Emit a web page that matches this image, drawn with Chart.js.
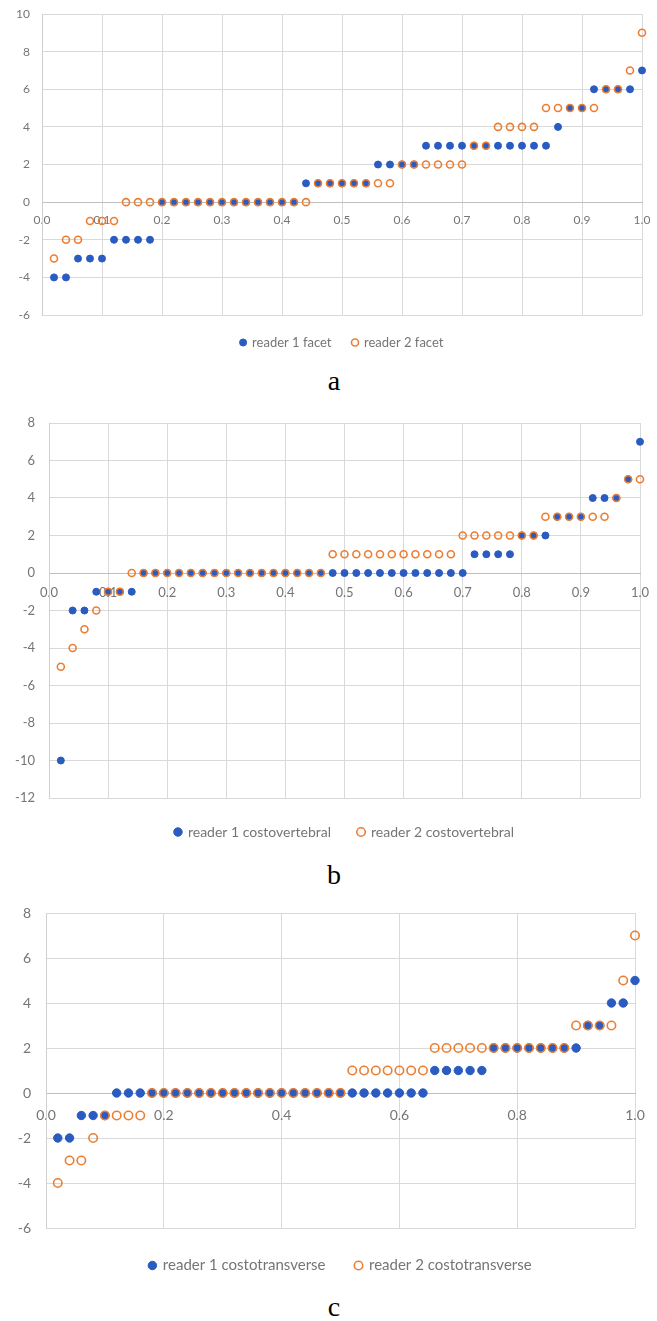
<!DOCTYPE html>
<html>
<head>
<meta charset="utf-8">
<script src="https://cdn.jsdelivr.net/npm/chart.js@4.4.1/dist/chart.umd.min.js"></script>
<style>
  html, body { margin: 0; padding: 0; background: #fff; }
  body { position: relative; width: 657px; height: 1321px; overflow: hidden; }
  canvas { position: absolute; left: 0; }
  .panel { position: absolute; left: 0; width: 668px; text-align: center; font-family: "Liberation Serif", "Times New Roman", serif; font-size: 28px; line-height: 28px; color: #000; }
</style>
</head>
<body>
<canvas id="chartA" width="657" height="359" style="top:0px"></canvas>
<div class="panel" style="top:367px">a</div>
<canvas id="chartB" width="657" height="449" style="top:400px"></canvas>
<div class="panel" style="top:861px">b</div>
<canvas id="chartC" width="657" height="393" style="top:890px"></canvas>
<div class="panel" style="top:1293px">c</div>

<script>
// cumulative proportion of cases (x axis, same for all three panels)
const xPos = [0.02, 0.04, 0.06, 0.08, 0.10, 0.12, 0.14, 0.16, 0.18, 0.20,
              0.22, 0.24, 0.26, 0.28, 0.30, 0.32, 0.34, 0.36, 0.38, 0.40,
              0.42, 0.44, 0.46, 0.48, 0.50, 0.52, 0.54, 0.56, 0.58, 0.60,
              0.62, 0.64, 0.66, 0.68, 0.70, 0.72, 0.74, 0.76, 0.78, 0.80,
              0.82, 0.84, 0.86, 0.88, 0.90, 0.92, 0.94, 0.96, 0.98, 1.00];

// a - facet
const facetReader1 = [-4, -4, -3, -3, -3, -2, -2, -2, -2, 0,
                      0, 0, 0, 0, 0, 0, 0, 0, 0, 0,
                      0, 1, 1, 1, 1, 1, 1, 2, 2, 2,
                      2, 3, 3, 3, 3, 3, 3, 3, 3, 3,
                      3, 3, 4, 5, 5, 6, 6, 6, 6, 7];
const facetReader2 = [-3, -2, -2, -1, -1, -1, 0, 0, 0, 0,
                      0, 0, 0, 0, 0, 0, 0, 0, 0, 0,
                      0, 0, 1, 1, 1, 1, 1, 1, 1, 2,
                      2, 2, 2, 2, 2, 3, 3, 4, 4, 4,
                      4, 5, 5, 5, 5, 5, 6, 6, 7, 9];

// b - costovertebral
const costovertReader1 = [-10, -2, -2, -1, -1, -1, -1, 0, 0, 0,
                          0, 0, 0, 0, 0, 0, 0, 0, 0, 0,
                          0, 0, 0, 0, 0, 0, 0, 0, 0, 0,
                          0, 0, 0, 0, 0, 1, 1, 1, 1, 2,
                          2, 2, 3, 3, 3, 4, 4, 4, 5, 7];
const costovertReader2 = [-5, -4, -3, -2, -1, -1, 0, 0, 0, 0,
                          0, 0, 0, 0, 0, 0, 0, 0, 0, 0,
                          0, 0, 0, 1, 1, 1, 1, 1, 1, 1,
                          1, 1, 1, 1, 2, 2, 2, 2, 2, 2,
                          2, 3, 3, 3, 3, 3, 3, 4, 5, 5];

// c - costotransverse
const costotransReader1 = [-2, -2, -1, -1, -1, 0, 0, 0, 0, 0,
                           0, 0, 0, 0, 0, 0, 0, 0, 0, 0,
                           0, 0, 0, 0, 0, 0, 0, 0, 0, 0,
                           0, 0, 1, 1, 1, 1, 1, 2, 2, 2,
                           2, 2, 2, 2, 2, 3, 3, 4, 4, 5];
const costotransReader2 = [-4, -3, -3, -2, -1, -1, -1, -1, 0, 0,
                           0, 0, 0, 0, 0, 0, 0, 0, 0, 0,
                           0, 0, 0, 0, 0, 1, 1, 1, 1, 1,
                           1, 1, 2, 2, 2, 2, 2, 2, 2, 2,
                           2, 2, 2, 2, 3, 3, 3, 3, 5, 7];

const BLUE = '#2A5BC0';
const ORANGE = '#ED7D31';
const GRID = '#d9d9d9';
const TEXT = '#757575';

function pairs(values) {
    return xPos.map((x, i) => ({ x: x, y: values[i] }));
}

function scatterChart(id, o) {
    const ctx = document.getElementById(id).getContext('2d');
    const tickFont = { family: 'Lato', size: o.tickSize };

    return new Chart(ctx, {
        type: 'scatter',
        data: {
            datasets: [{
                label: o.labels[0],
                data: pairs(o.reader1),
                order: 1,
                backgroundColor: BLUE,
                borderColor: BLUE,
                borderWidth: 1,
                pointRadius: o.radius,
                pointHoverRadius: o.radius,
                clip: false
            }, {
                label: o.labels[1],
                data: pairs(o.reader2),
                order: 0,
                backgroundColor: 'rgba(0,0,0,0)',
                borderColor: ORANGE,
                borderWidth: 1.6,
                pointRadius: o.radius,
                pointHoverRadius: o.radius,
                clip: false
            }]
        },
        options: {
            responsive: false,
            animation: false,
            layout: { padding: { top: o.top, right: o.right, left: 0, bottom: 0 } },
            plugins: {
                tooltip: { enabled: false },
                legend: {
                    position: 'bottom',
                    fullSize: false,
                    labels: {
                        usePointStyle: true,
                        pointStyle: 'circle',
                        boxWidth: o.legendBox,
                        boxHeight: o.legendBox,
                        padding: o.legendPad,
                        color: TEXT,
                        font: { family: 'Lato', size: o.legendSize },
                        sort: (a, b) => a.datasetIndex - b.datasetIndex
                    }
                }
            },
            scales: {
                x: {
                    type: 'linear',
                    min: 0,
                    max: 1,
                    position: { y: 0 },
                    grid: { color: GRID, drawTicks: false },
                    border: { color: '#bfbfbf' },
                    ticks: {
                        stepSize: o.xStep,
                        padding: o.xPad,
                        color: TEXT,
                        font: tickFont,
                        maxRotation: 0,
                        autoSkip: false,
                        callback: v => Number(v).toFixed(1)
                    },
                    afterFit: s => { s.paddingLeft = 0; s.paddingRight = 0; }
                },
                y: {
                    min: o.yMin,
                    max: o.yMax,
                    grid: { color: GRID, drawTicks: false },
                    border: { color: '#cfcfcf' },
                    ticks: { stepSize: 2, padding: o.yPad, color: TEXT, font: tickFont },
                    afterFit: s => { s.width = o.left; s.paddingTop = 0; s.paddingBottom = 0; }
                }
            }
        }
    });
}

document.addEventListener('DOMContentLoaded', function () {
    scatterChart('chartA', {
        labels: ['reader 1 facet', 'reader 2 facet'],
        reader1: facetReader1, reader2: facetReader2,
        yMin: -6, yMax: 10, xStep: 0.1,
        top: 14, right: 15, left: 42,
        radius: 3.5, tickSize: 12, xPad: 11, yPad: 12,
        legendSize: 13, legendBox: 5, legendPad: 21
    });
    scatterChart('chartB', {
        labels: ['reader 1 costovertebral', 'reader 2 costovertebral'],
        reader1: costovertReader1, reader2: costovertReader2,
        yMin: -12, yMax: 8, xStep: 0.1,
        top: 23, right: 17, left: 49,
        radius: 3.5, tickSize: 13, xPad: 12, yPad: 14,
        legendSize: 14, legendBox: 6, legendPad: 27
    });
    scatterChart('chartC', {
        labels: ['reader 1 costotransverse', 'reader 2 costotransverse'],
        reader1: costotransReader1, reader2: costotransReader2,
        yMin: -6, yMax: 8, xStep: 0.2,
        top: 23, right: 22, left: 46,
        radius: 4.2, tickSize: 14, xPad: 14, yPad: 15,
        legendSize: 15, legendBox: 6, legendPad: 30
    });
});
</script>
</body>
</html>
